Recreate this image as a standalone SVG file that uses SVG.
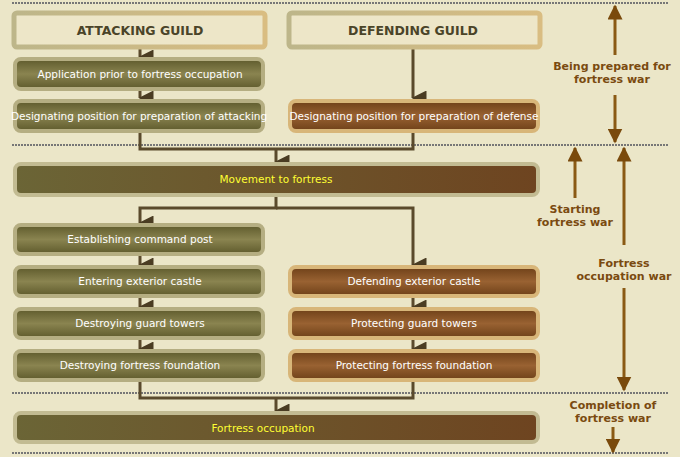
<svg xmlns="http://www.w3.org/2000/svg" width="680" height="457" viewBox="0 0 680 457">
<defs>
<linearGradient id="ol" x1="0" y1="0" x2="0" y2="1"><stop offset="0" stop-color="#5e5a2c"/><stop offset="0.5" stop-color="#8a8450"/><stop offset="1" stop-color="#5e5a2c"/></linearGradient>
<linearGradient id="br" x1="0" y1="0" x2="0" y2="1"><stop offset="0" stop-color="#6e4018"/><stop offset="0.5" stop-color="#996232"/><stop offset="1" stop-color="#6e4018"/></linearGradient>
<linearGradient id="mx" x1="0" y1="0" x2="1" y2="0"><stop offset="0" stop-color="#6b6536"/><stop offset="1" stop-color="#6e4420"/></linearGradient>
<linearGradient id="hd" x1="0" y1="0" x2="1" y2="0"><stop offset="0" stop-color="#bdb68a"/><stop offset="1" stop-color="#d9bd82"/></linearGradient>
<marker id="a" viewBox="0 0 10 10" refX="5" refY="9" markerWidth="5" markerHeight="5" orient="auto-start-reverse" markerUnits="strokeWidth"><path d="M0,0 L10,0 L5,10 Z" fill="#4a3c22"/></marker>
<marker id="b" viewBox="0 0 10 10" refX="9" refY="5" markerWidth="5" markerHeight="5" orient="auto-start-reverse"><path d="M0,0 L10,5 L0,10 Z" fill="#7a4a0c"/></marker>
</defs>
<style>
.ol{fill:url(#ol);stroke:#b5ae82;stroke-width:4}
.br{fill:url(#br);stroke:#d8b679;stroke-width:4}
.mx{fill:url(#mx);stroke:#c2bb92;stroke-width:4}
.hd{fill:#ede6c8;stroke:url(#hd);stroke-width:5}
.t{font-family:"DejaVu Sans",sans-serif;font-size:10.5px;fill:#fff;text-anchor:middle}
.y{fill:#ffff33}
.h{font-family:"DejaVu Sans",sans-serif;font-size:12.5px;font-weight:bold;fill:#4a4428;text-anchor:middle}
.s{font-family:"DejaVu Sans",sans-serif;font-size:11px;font-weight:bold;fill:#7a4a10;text-anchor:middle}
.c{fill:none;stroke:#5a4a2c;stroke-width:3}
.r{fill:none;stroke:#8a5a14;stroke-width:3}
.d{stroke:#777;stroke-width:2;stroke-dasharray:2 1}
</style>
<rect width="680" height="457" fill="#ebe6c8"/>
<g id="seps">
<line class="d" x1="12" y1="3" x2="668" y2="3"/><line class="d" x1="12" y1="145" x2="668" y2="145"/>
<line class="d" x1="12" y1="393" x2="668" y2="393"/><line class="d" x1="12" y1="453" x2="668" y2="453"/>
</g>
<g id="connectors">
<path class="c" d="M140,48 V57" marker-end="url(#a)"/>
<path class="c" d="M140,89 V98" marker-end="url(#a)"/>
<path class="c" d="M413,48 V98" marker-end="url(#a)"/>
<path class="c" d="M140,131 V149 H413 V131"/>
<path class="c" d="M276,149 V162" marker-end="url(#a)"/>
<path class="c" d="M276,195 V208 H140 V223" marker-end="url(#a)"/>
<path class="c" d="M276,208 H413 V265" marker-end="url(#a)"/>
<path class="c" d="M140,254 V265" marker-end="url(#a)"/>
<path class="c" d="M140,296 V307" marker-end="url(#a)"/>
<path class="c" d="M140,338 V349" marker-end="url(#a)"/>
<path class="c" d="M413,296 V307" marker-end="url(#a)"/>
<path class="c" d="M413,338 V349" marker-end="url(#a)"/>
<path class="c" d="M140,380 V398 H413 V380"/>
<path class="c" d="M276,398 V411" marker-end="url(#a)"/>
<path class="r" d="M615,6 V55" marker-start="url(#b)"/>
<path class="r" d="M615,95 V142" marker-end="url(#b)"/>
<path class="r" d="M575,148 V198" marker-start="url(#b)"/>
<path class="r" d="M624,148 V245" marker-start="url(#b)"/>
<path class="r" d="M624,288 V390" marker-end="url(#b)"/>
<path class="r" d="M613,427 V452" marker-end="url(#b)"/>
</g>
<g id="n1"><rect class="hd" x="14" y="13" width="251" height="34" rx="3"/><text class="h" x="140" y="35">ATTACKING GUILD</text></g>
<g id="n2"><rect class="hd" x="289" y="13" width="251" height="34" rx="3"/><text class="h" x="413" y="35">DEFENDING GUILD</text></g>
<g id="n3"><rect class="ol" x="15" y="59" width="248" height="30" rx="6"/><text class="t" x="140" y="78">Application prior to fortress occupation</text></g>
<g id="n4"><rect class="ol" x="15" y="101" width="248" height="30" rx="6"/><text class="t" x="139" y="120">Designating position for preparation of attacking</text></g>
<g id="n5"><rect class="br" x="290" y="101" width="248" height="30" rx="6"/><text class="t" x="414" y="120">Designating position for preparation of defense</text></g>
<g id="n6"><rect class="mx" x="15" y="164" width="523" height="31" rx="6"/><text class="t y" x="276" y="183">Movement to fortress</text></g>
<g id="n7"><rect class="ol" x="15" y="225" width="248" height="29" rx="6"/><text class="t" x="140" y="243">Establishing command post</text></g>
<g id="n8"><rect class="ol" x="15" y="267" width="248" height="29" rx="6"/><text class="t" x="140" y="285">Entering exterior castle</text></g>
<g id="n9"><rect class="br" x="290" y="267" width="248" height="29" rx="6"/><text class="t" x="414" y="285">Defending exterior castle</text></g>
<g id="n10"><rect class="ol" x="15" y="309" width="248" height="29" rx="6"/><text class="t" x="140" y="327">Destroying guard towers</text></g>
<g id="n11"><rect class="br" x="290" y="309" width="248" height="29" rx="6"/><text class="t" x="414" y="327">Protecting guard towers</text></g>
<g id="n12"><rect class="ol" x="15" y="351" width="248" height="29" rx="6"/><text class="t" x="140" y="369">Destroying fortress foundation</text></g>
<g id="n13"><rect class="br" x="290" y="351" width="248" height="29" rx="6"/><text class="t" x="414" y="369">Protecting fortress foundation</text></g>
<g id="n14"><rect class="mx" x="15" y="413" width="523" height="29" rx="6"/><text class="t y" x="263" y="432">Fortress occupation</text></g>
<g id="labels">
<text class="s" x="612" y="70">Being prepared for</text><text class="s" x="612" y="83">fortress war</text>
<text class="s" x="575" y="213">Starting</text><text class="s" x="575" y="226">fortress war</text>
<text class="s" x="624" y="267">Fortress</text><text class="s" x="624" y="280">occupation war</text>
<text class="s" x="613" y="409">Completion of</text><text class="s" x="613" y="422">fortress war</text>
</g>
</svg>
